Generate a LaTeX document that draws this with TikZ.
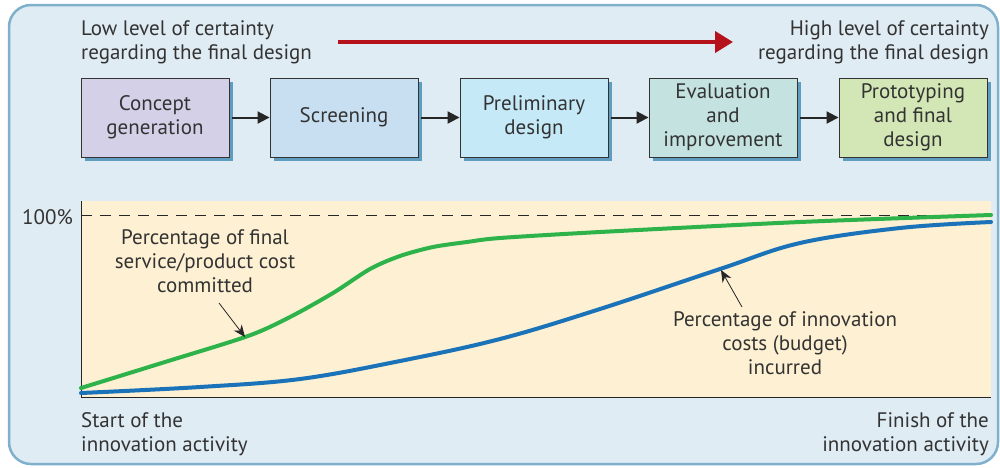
\documentclass[tikz,border=0pt]{standalone}
\usepackage{fontspec}
\setmainfont{PT Sans}
\usetikzlibrary{arrows.meta,shadows}
\definecolor{framebg}{HTML}{E0ECF3}
\definecolor{framelc}{HTML}{7FB0CC}
\definecolor{shadowc}{HTML}{5E9DC0}
\definecolor{txt}{HTML}{333333}
\definecolor{bA}{HTML}{D3D0E8}
\definecolor{bB}{HTML}{C8DFF2}
\definecolor{bC}{HTML}{C5E9F7}
\definecolor{bD}{HTML}{C4E2E0}
\definecolor{bE}{HTML}{D3E6B5}
\definecolor{plotbg}{HTML}{FDF0D3}
\definecolor{redarr}{HTML}{B5121B}
\definecolor{greenc}{HTML}{2DB34A}
\definecolor{bluec}{HTML}{1A73B8}
\tikzset{
  stagebox/.style={draw=black!80, line width=0.9pt, minimum width=148pt, minimum height=79pt,
    align=center, font=\fontsize{21}{24}\selectfont, text=txt, inner sep=2pt,
    drop shadow={shadow xshift=4pt, shadow yshift=-4pt, fill=shadowc, opacity=1}},
  flowarrow/.style={-{Triangle[length=12pt,width=12pt]}, line width=2pt, black!85},
  lbl/.style={font=\fontsize{21}{24}\selectfont, text=txt, inner sep=0pt},
  pointer/.style={-{Stealth[length=12pt,width=10pt]}, line width=0.8pt, black!85},
}
\begin{document}
\begin{tikzpicture}[x=1pt,y=-1pt]
\useasboundingbox (0,0) rectangle (1000,467);
% outer frame
\draw[fill=framebg, draw=framelc, line width=2.5pt, rounded corners=22pt] (9,5) rectangle (998,464);
% top texts
\node[lbl, align=left, anchor=west] (low) at (81,42) {Low level of certainty\\regarding the final design};
\node[lbl, align=right, anchor=east] (high) at (989,42) {High level of certainty\\regarding the final design};
\coordinate (ra) at (338,42);
\coordinate (rb) at (733,42);
\draw[redarr, line width=4pt, -{Triangle[length=18pt,width=21pt]}] (ra) -- (rb);
% stage boxes
\node[stagebox, fill=bA] (s1) at (155,117.5) {Concept\\generation};
\node[stagebox, fill=bB] (s2) at (344,117.5) {Screening};
\node[stagebox, fill=bC] (s3) at (534,117.5) {Preliminary\\design};
\node[stagebox, fill=bD] (s4) at (723,117.5) {Evaluation\\and\\improvement};
\node[stagebox, fill=bE] (s5) at (913,117.5) {Prototyping\\and final\\design};
\draw[flowarrow] (s1.east) ++(3,0) -- (s2.west);
\draw[flowarrow] (s2.east) ++(3,0) -- (s3.west);
\draw[flowarrow] (s3.east) ++(3,0) -- (s4.west);
\draw[flowarrow] (s4.east) ++(3,0) -- (s5.west);
% plot area
\fill[plotbg] (81,201) rectangle (991,397);
\draw[black!85, line width=1pt] (81,201) -- (81,397) -- (991,397);
\draw[black!85, line width=0.9pt, dash pattern=on 11pt off 8pt] (81,215) -- (991,215);
\node[lbl, anchor=east] (pct) at (73,217) {100\%};
% green curve
\draw[greenc, line width=4pt, line cap=round] plot[smooth, tension=0.5] coordinates {
 (81,388) (165,362) (248,336) (290,317) (333,293) (370,269) (400,256) (433,247)
 (467,242) (500,238) (600,232) (800,222) (991,215)};
% blue curve
\draw[bluec, line width=4pt, line cap=round] plot[smooth, tension=0.6] coordinates {
 (81,393) (200,387) (300,379) (400,361) (500,339) (600,309) (720,269)
 (800,243) (900,228) (991,222)};
% labels with pointers
\node[lbl, align=center] (lg) at (205,261) {Percentage of final\\service/product cost\\committed};
\coordinate (lgt) at (219,303);
\coordinate (lgh) at (245,337);
\draw[pointer] (lgt) -- (lgh);
\node[lbl, align=center] (lb) at (785,343) {Percentage of innovation\\costs (budget)\\incurred};
\coordinate (lbt) at (742,307);
\coordinate (lbh) at (721,270);
\draw[pointer] (lbt) -- (lbh);
% bottom texts
\node[lbl, align=left, anchor=west] (start) at (81,434) {Start of the\\innovation activity};
\node[lbl, align=right, anchor=east] (finish) at (989,434) {Finish of the\\innovation activity};
\end{tikzpicture}
\end{document}
